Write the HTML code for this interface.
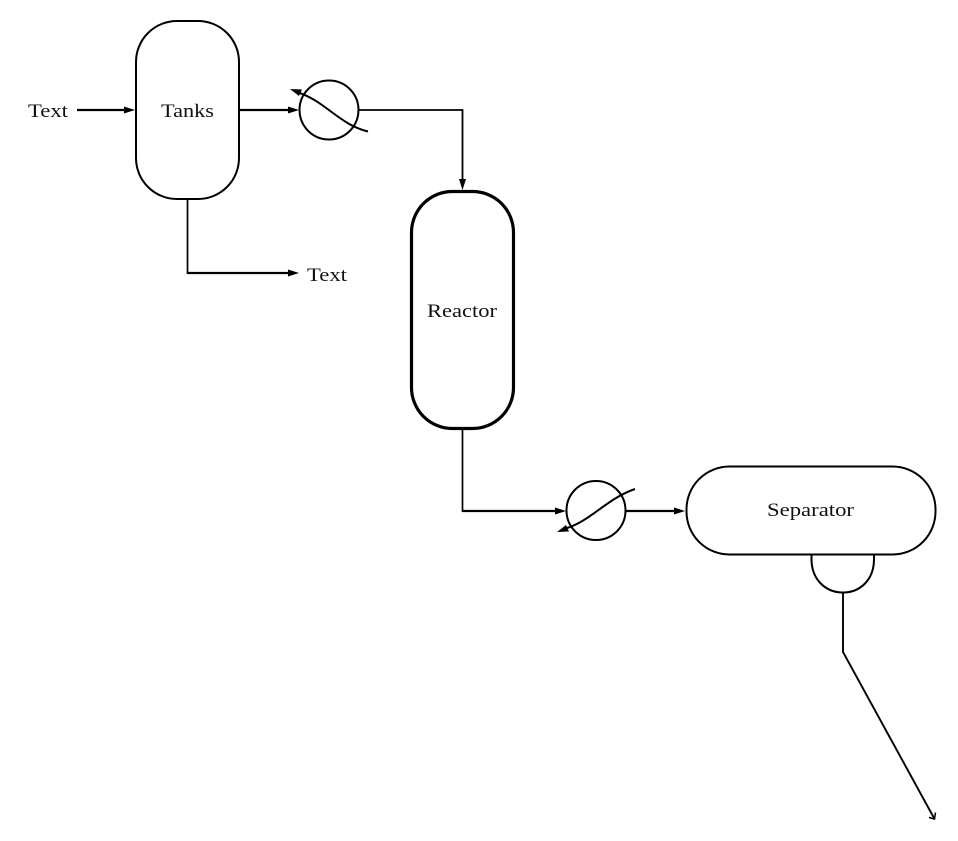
<!DOCTYPE html>
<html>
<head>
<meta charset="utf-8">
<style>
html,body{margin:0;padding:0;background:#fff;}
svg{display:block;}
text{font-family:"Liberation Serif",serif;font-size:19px;fill:#111;}
.l{fill:none;stroke:#000;stroke-width:1.8;}
.a{fill:#000;stroke:none;}
</style>
</head>
<body>
<svg width="958" height="841" viewBox="0 0 958 841" xmlns="http://www.w3.org/2000/svg">
<!-- vessels -->
<rect class="l" x="136" y="21" width="103" height="178" rx="41" ry="41" style="stroke-width:2"/>
<rect class="l" x="411.500" y="191.500" width="102" height="237" rx="41" ry="41" style="stroke-width:3.200"/>
<rect class="l" x="686.500" y="466.500" width="249" height="88" rx="43" ry="43" style="stroke-width:2"/>
<path class="l" d="M811.500 554.500 V559 C811.500 580 826 592.500 843 592.500 C860 592.500 874 580 874 559 V554.500" style="stroke-width:2"/>
<!-- exchangers -->
<circle class="l" cx="329" cy="110" r="29.500" style="stroke-width:2"/>
<circle class="l" cx="596" cy="510.500" r="29.500" style="stroke-width:2"/>
<path class="l" d="M368 131.500 C340 125 325 101 298 92.500" style="stroke-width:2"/>
<polygon class="a" points="290,89 302,89.500 299,96"/>
<path class="l" d="M635 489 C606 499 590 522 564 529" style="stroke-width:2"/>
<polygon class="a" points="557,532 566,525 569,531.500"/>
<!-- connectors -->
<path class="l" d="M77 110 H128" style="stroke-width:2.200"/>
<polygon class="a" points="135,110 124,106.500 124,113.500"/>
<path class="l" d="M240 110 H292" style="stroke-width:2.200"/>
<polygon class="a" points="299,110 288,106.500 288,113.500"/>
<path class="l" d="M358 110 H462.500 V181" style="stroke-width:1.800"/>
<polygon class="a" points="462.500,190 459,179 466,179"/>
<path class="l" d="M187.500 199 V273 H291" style="stroke-width:1.700"/>
<path class="l" d="M187.500 273 H291" style="stroke-width:2.200"/>
<polygon class="a" points="299,273 288,269.500 288,276.500"/>
<path class="l" d="M462.500 428 V511 H558" style="stroke-width:1.700"/>
<path class="l" d="M462.500 511 H558" style="stroke-width:2.200"/>
<polygon class="a" points="566,511 555,507.500 555,514.500"/>
<path class="l" d="M625 511 H677" style="stroke-width:2.200"/>
<polygon class="a" points="685,511 674,507.500 674,514.500"/>
<path class="l" d="M843 592 V652 L934 818" style="stroke-width:1.900"/>
<path class="l" d="M929 817.500 L934.500 819 L935.500 812.500" style="stroke-width:1.500"/>
<!-- labels -->
<text x="28" y="117" textLength="40" lengthAdjust="spacingAndGlyphs">Text</text>
<text x="161" y="117" textLength="53" lengthAdjust="spacingAndGlyphs">Tanks</text>
<text x="307" y="281" textLength="40" lengthAdjust="spacingAndGlyphs">Text</text>
<text x="427" y="317" textLength="70" lengthAdjust="spacingAndGlyphs">Reactor</text>
<text x="767" y="516" textLength="87" lengthAdjust="spacingAndGlyphs">Separator</text>
</svg>
</body>
</html>
